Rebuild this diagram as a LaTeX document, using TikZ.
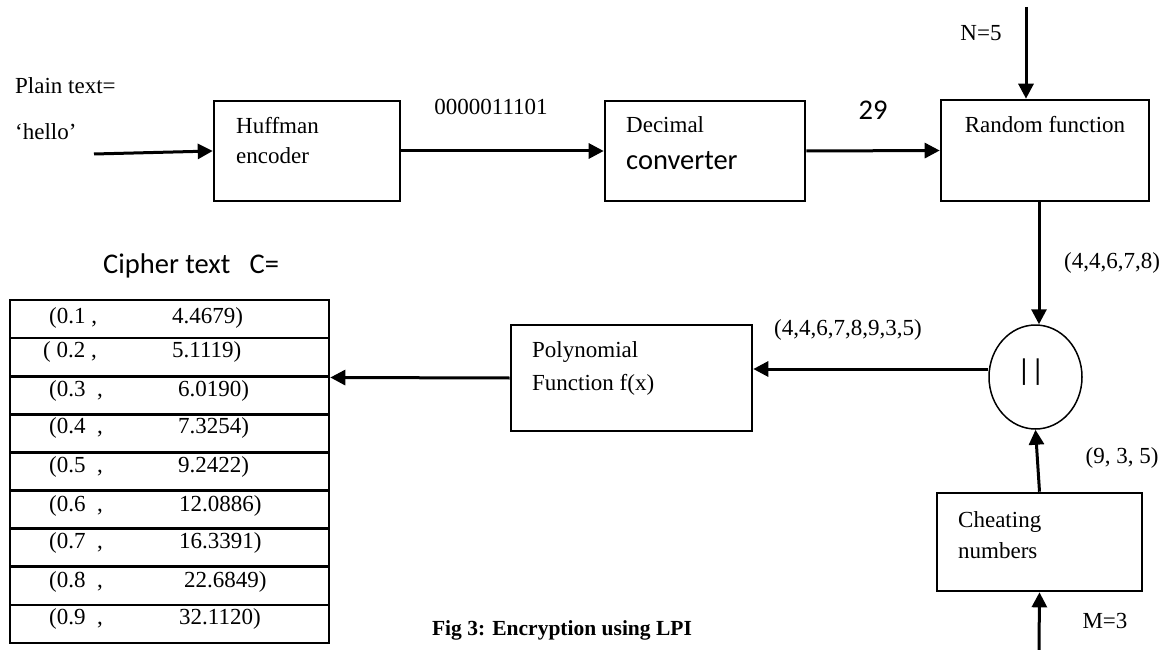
\documentclass[tikz,border=0pt]{standalone}
\usepackage{fontspec}
\setmainfont{Liberation Serif}
\newfontfamily\calib{Carlito}
\usetikzlibrary{arrows.meta,shapes.geometric}
\begin{document}
\begin{tikzpicture}[x=1pt,y=-1pt,
  box/.style={draw,line width=2.6pt,inner sep=0pt},
  rowbox/.style={draw,line width=2.6pt,inner sep=0pt,minimum width=319pt,minimum height=38.1pt},
  arr/.style={line width=3pt,-{Triangle[length=15pt,width=15pt]}},
  txt/.style={inner sep=0pt,font=\fontsize{23}{27}\selectfont},
  stxt/.style={inner sep=0pt,font=\calib\fontsize{28.5}{32}\selectfont},
  captxt/.style={inner sep=0pt,font=\bfseries\fontsize{21.5}{25}\selectfont}]
\useasboundingbox (0,0) rectangle (1173,650);
\fill[white] (0,0) rectangle (1173,650);

% boxes
\node[box,minimum width=186pt,minimum height=100pt] (huff) at (307,151) {};
\node[box,minimum width=200pt,minimum height=100pt] (dec) at (705,151) {};
\node[box,minimum width=208pt,minimum height=101pt] (rand) at (1045,150.5) {};
\node[box,minimum width=241pt,minimum height=106pt] (poly) at (631.5,378) {};
\node[box,minimum width=205pt,minimum height=98pt] (cheat) at (1039.5,542) {};
\node[draw,ellipse,line width=1.5pt,inner sep=0pt,minimum width=93pt,minimum height=104pt] (circ) at (1035.5,377) {};

% table rows
\foreach \i in {1,...,9}{
  \node[rowbox] (row\i) at (169.5,{300+38.1*(\i-1)+19.05}) {};
}

% box texts
\node[txt,anchor=base west] (thuff1) at (236,134) {Huffman};
\node[txt,anchor=base west] (thuff2) at (236,164) {encoder};
\node[txt,anchor=base west] (tdec1) at (626,133) {Decimal};
\node[stxt,anchor=base west] (tdec2) at (626,170) {converter};
\node[txt,anchor=base] (trand) at (1045,133) {Random function};
\node[txt,anchor=base west] (tpoly1) at (532,357) {Polynomial};
\node[txt,anchor=base west] (tpoly2) at (532,390) {Function f(x)};
\node[txt,anchor=base west] (tcheat1) at (958,527) {Cheating};
\node[txt,anchor=base west] (tcheat2) at (958,558) {numbers};
\node[inner sep=0pt,font=\calib\fontsize{30}{32}\selectfont] (tbar) at (1031,372) {||};

% free labels
\node[txt,anchor=base west] (lplain) at (15,94) {Plain text=};
\node[txt,anchor=base west] (lhello) at (15,140) {‘hello’};
\node[txt,anchor=base] (lbits) at (491,115) {0000011101};
\node[stxt,anchor=base] (l29) at (873,120) {29};
\node[txt,anchor=base] (ln) at (981,41) {N=5};
\node[txt,anchor=base] (lfive) at (1112,268) {(4,4,6,7,8)};
\node[txt,anchor=base] (leight) at (848,335) {(4,4,6,7,8,9,3,5)};
\node[txt,anchor=base] (lthree) at (1122,463) {(9, 3, 5)};
\node[txt,anchor=base] (lm) at (1105,628) {M=3};
\node[stxt,anchor=base west] (lcipher) at (103,273) {Cipher text\ \ \ C=};
\node[captxt,anchor=base] (lcap) at (562,635) {Fig 3: Encryption using LPI};

% table texts
\node[txt,anchor=base west] (a1) at (49,323) {(0.1 ,};
\node[txt,anchor=base west] (b1) at (172,323) {4.4679)};
\node[txt,anchor=base west] (a2) at (43,357) {( 0.2 ,};
\node[txt,anchor=base west] (b2) at (172,357) {5.1119)};
\node[txt,anchor=base west] (a3) at (49,396) {(0.3\ \ ,};
\node[txt,anchor=base west] (b3) at (178,396) {6.0190)};
\node[txt,anchor=base west] (a4) at (49,433) {(0.4\ \ ,};
\node[txt,anchor=base west] (b4) at (178,433) {7.3254)};
\node[txt,anchor=base west] (a5) at (49,472) {(0.5\ \ ,};
\node[txt,anchor=base west] (b5) at (178,472) {9.2422)};
\node[txt,anchor=base west] (a6) at (49,511) {(0.6\ \ ,};
\node[txt,anchor=base west] (b6) at (179,511) {12.0886)};
\node[txt,anchor=base west] (a7) at (49,548) {(0.7\ \ ,};
\node[txt,anchor=base west] (b7) at (179,548) {16.3391)};
\node[txt,anchor=base west] (a8) at (49,587) {(0.8\ \ ,};
\node[txt,anchor=base west] (b8) at (184,587) {22.6849)};
\node[txt,anchor=base west] (a9) at (49,624) {(0.9\ \ ,};
\node[txt,anchor=base west] (b9) at (179,624) {32.1120)};

% connectors
\coordinate (in) at (94,154);
\coordinate (ntop) at (1026,7);
\coordinate (mbot) at (1039,650);
\draw[arr] (in) -- (huff.west);
\draw[arr] (huff.east) -- (dec.west);
\draw[arr] (dec.east) -- (rand.west);
\draw[arr] (ntop) -- (ntop |- rand.north);
\draw[arr] ([xshift=-6pt]rand.south) -- ([xshift=3.5pt]circ.north);
\draw[arr] ([yshift=8pt]circ.west) -- ([yshift=9pt]poly.east);
\draw[arr] (poly.west) -- (row2.south east);
\draw[arr] (cheat.north) -- (circ.south);
\draw[arr] (mbot) -- (cheat.south);
\end{tikzpicture}
\end{document}
